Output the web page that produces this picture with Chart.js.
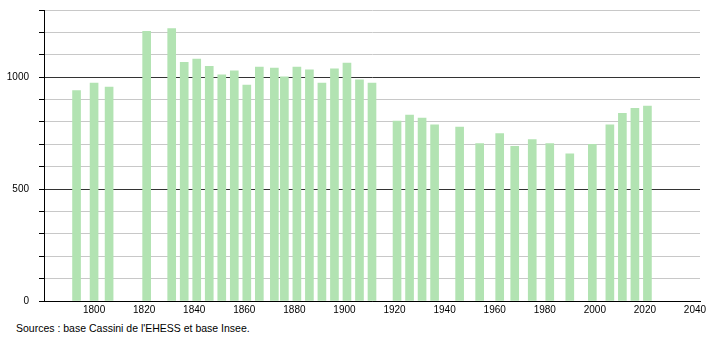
<!DOCTYPE html>
<html>
<head>
<meta charset="utf-8">
<script src="https://cdn.jsdelivr.net/npm/chart.js@4/dist/chart.umd.min.js"></script>
<style>
  html, body { margin: 0; padding: 0; background: #fff; }
  #wrap { position: relative; width: 710px; height: 340px; overflow: hidden; }
  #chart { position: absolute; left: 0; top: -6px; }
  #source {
    position: absolute; left: 16px; top: 322px;
    font-family: "Liberation Sans", Arial, sans-serif; font-size: 10.5px; color: #000;
  }
</style>
</head>
<body>
<div id="wrap">
  <canvas id="chart" width="710" height="325"></canvas>
  <div id="source">Sources : base Cassini de l'EHESS et base Insee.</div>
</div>
<script>
// census years and population
const years = [1793, 1800, 1806, 1821, 1831, 1836, 1841, 1846, 1851, 1856,
    1861, 1866, 1872, 1876, 1881, 1886, 1891, 1896, 1901, 1906, 1911,
    1921, 1926, 1931, 1936, 1946, 1954, 1962, 1968, 1975, 1982, 1990,
    1999, 2006, 2011, 2016, 2021];
const population = [940, 973, 956, 1205, 1217, 1066, 1081, 1048, 1010, 1028,
    965, 1045, 1040, 1001, 1045, 1033, 973, 1037, 1063, 988, 974,
    804, 831, 817, 787, 777, 703, 748, 691, 721, 703, 658,
    700, 787, 838, 861, 871];
const xTicks = [1800, 1820, 1840, 1860, 1880, 1900, 1920, 1940, 1960, 1980, 2000, 2020, 2040];
const yLabels = [0, 500, 1000];

const FONT = { family: '"Liberation Sans", Arial, sans-serif', size: 10 };

const ctx = document.getElementById('chart').getContext('2d');
new Chart(ctx, {
    type: 'bar',
    data: {
        datasets: [{
            data: years.map((y, i) => ({ x: y, y: population[i] })),
            backgroundColor: '#b2e3b2',
            barThickness: 8
        }]
    },
    options: {
        responsive: false,
        animation: false,
        layout: { padding: { top: 2, right: 10, left: 0, bottom: 0 } },
        plugins: {
            legend: { display: false },
            tooltip: { enabled: false }
        },
        scales: {
            x: {
                type: 'linear',
                offset: false,
                min: 1780,
                max: 2042,
                afterBuildTicks: scale => {
                    scale.ticks = xTicks.map(v => ({ value: v }));
                },
                border: { color: '#000', width: 1 },
                grid: { display: false, drawTicks: false },
                ticks: {
                    autoSkip: false,
                    color: '#000',
                    font: FONT,
                    maxRotation: 0,
                    padding: 3,
                    callback: v => String(v)
                }
            },
            y: {
                min: 0,
                max: 1300,
                afterFit: scale => { scale.width = 44; },
                border: { color: '#000', width: 1 },
                grid: {
                    color: c => (c.tick && c.tick.value % 500 === 0) ? '#333' : '#c8c8c8',
                    tickColor: '#000',
                    tickLength: 5,
                    drawTicks: true
                },
                ticks: {
                    stepSize: 100,
                    color: '#000',
                    font: FONT,
                    padding: 10,
                    callback: v => yLabels.includes(v) ? String(v) : ''
                }
            }
        }
    }
});
</script>
</body>
</html>
